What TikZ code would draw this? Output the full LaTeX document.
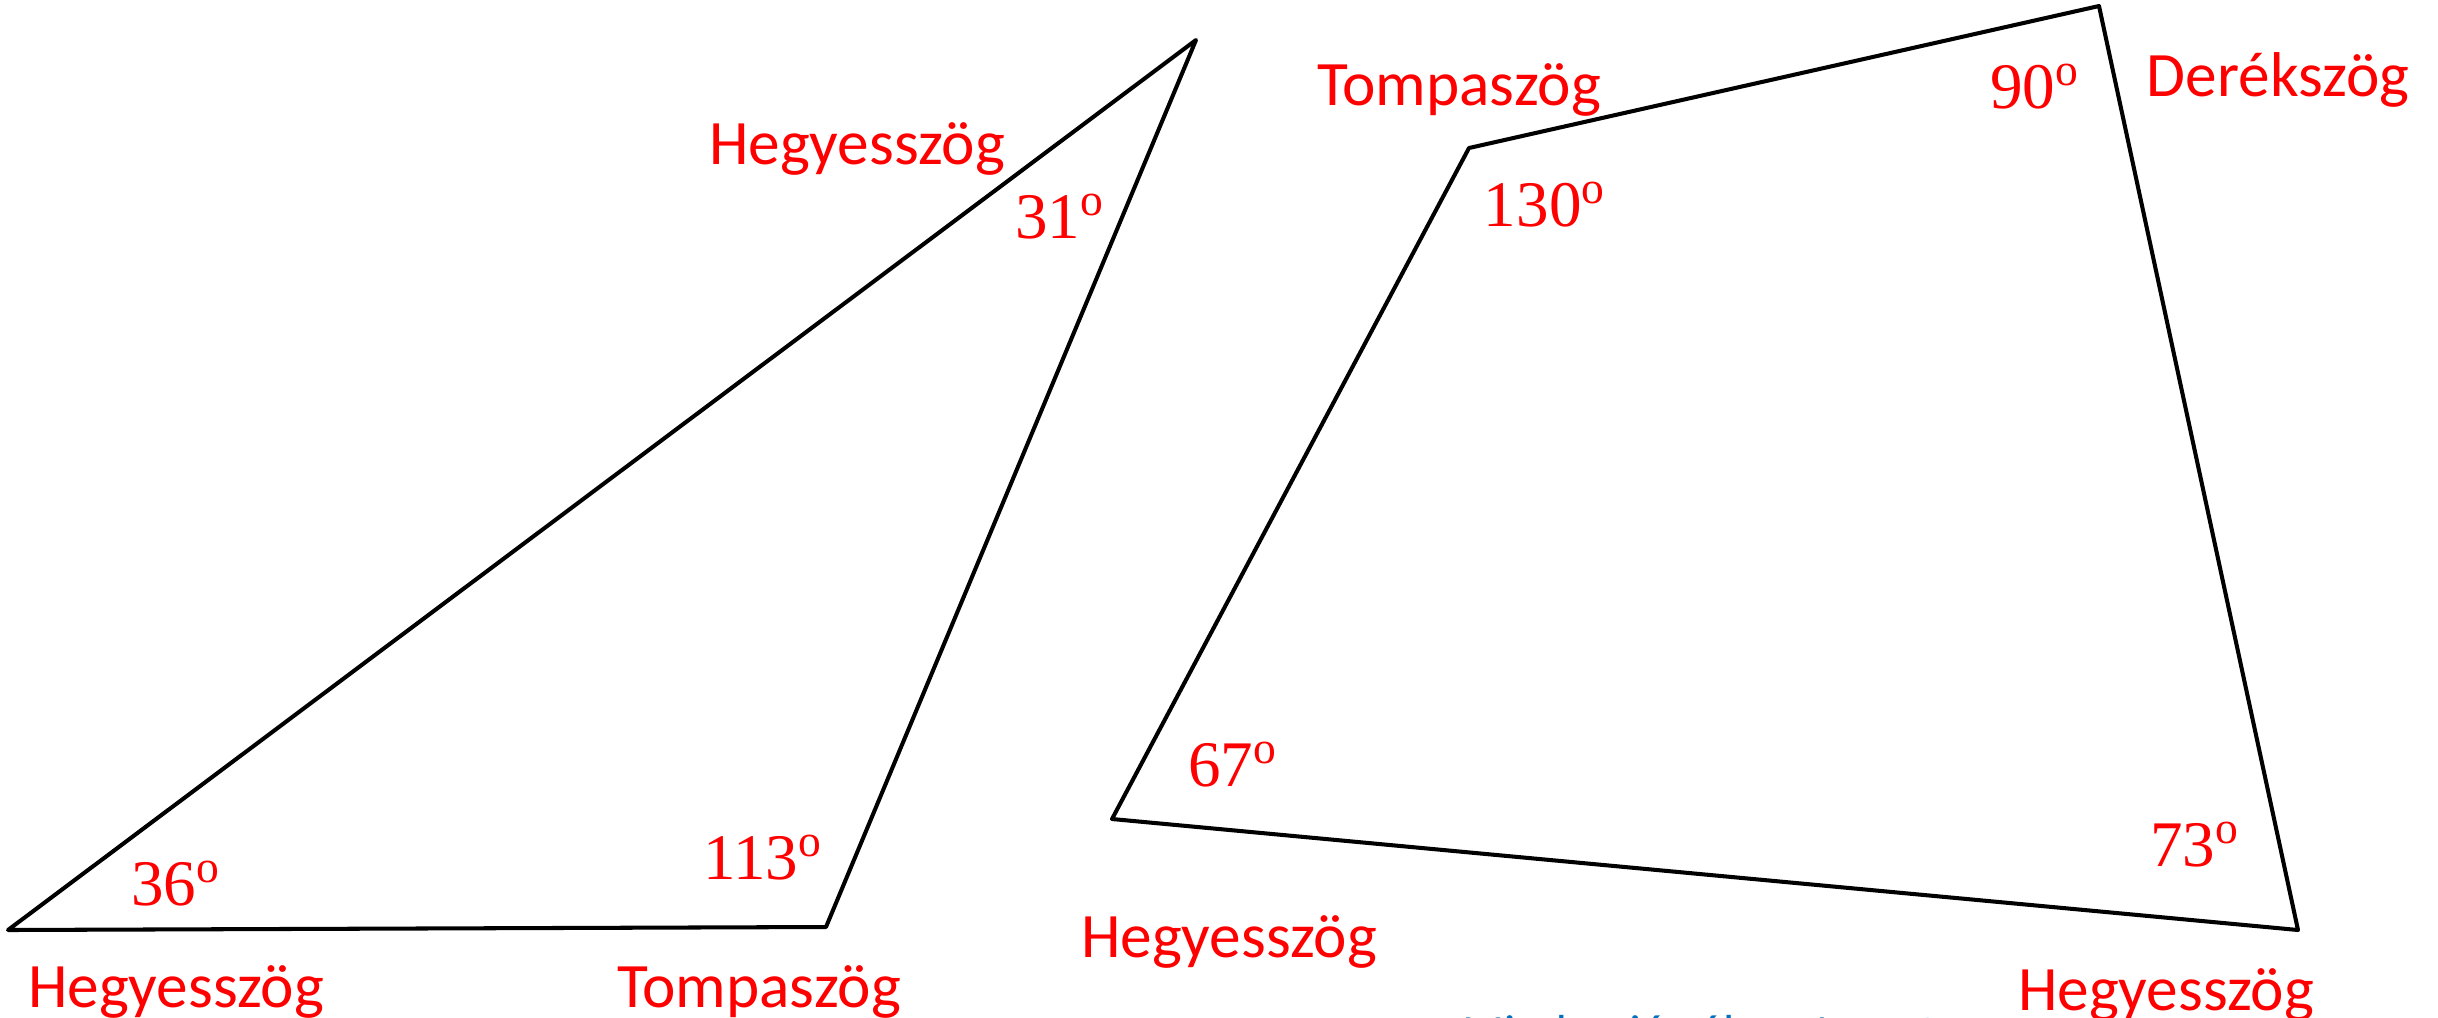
\documentclass[tikz,border=0pt]{standalone}
\usepackage{fontspec}
\setmainfont{Carlito}
\newfontfamily\numfont{Liberation Serif}
\usetikzlibrary{positioning}
\definecolor{labelred}{RGB}{255,0,0}
\definecolor{noteblue}{RGB}{0,112,192}
\newcommand{\fok}[1]{#1\textsuperscript{o}}
\tikzset{
  kind/.style={text=labelred,font=\fontsize{18}{20}\selectfont,inner sep=0pt,anchor=base},
  angle/.style={text=labelred,font=\numfont\fontsize{18.5}{20}\selectfont,inner sep=0pt,anchor=base},
  side/.style={draw=black,line width=1.15pt,line join=round},
  note/.style={text=noteblue,font=\fontsize{14}{16}\selectfont,inner sep=0pt,anchor=base west}
}
\begin{document}
\begin{tikzpicture}[x=0.01cm,y=-0.01cm]
  \useasboundingbox (0,0) rectangle (2438,1017);
  % triangle
  \coordinate (ta) at (8,930);
  \coordinate (tb) at (826,927);
  \coordinate (tc) at (1196,40);
  \draw[side] (ta) -- (tb) -- (tc) -- cycle;
  \node[angle] (ta-deg) at (176,905) {\fok{36}};
  \node[kind] (ta-kind) at (176,1007) {Hegyesszög};
  \node[angle] (tb-deg) at (763,879) {\fok{113}};
  \node[kind] (tb-kind) at (759,1007) {Tompaszög};
  \node[angle] (tc-deg) at (1060,238) {\fok{31}};
  \node[kind] (tc-kind) at (857,164) {Hegyesszög};
  % quadrilateral
  \coordinate (qa) at (1112,819);
  \coordinate (qb) at (1469,148);
  \coordinate (qc) at (2099,6);
  \coordinate (qd) at (2298,930);
  \draw[side] (qa) -- (qb) -- (qc) -- (qd) -- cycle;
  \node[angle] (qa-deg) at (1233,786) {\fok{67}};
  \node[kind] (qa-kind) at (1229,957) {Hegyesszög};
  \node[angle] (qb-deg) at (1545,226) {\fok{130}};
  \node[kind] (qb-kind) at (1459,105) {Tompaszög};
  \node[angle] (qc-deg) at (2035,108) {\fok{90}};
  \node[kind] (qc-kind) at (2278,96) {Derékszög};
  \node[angle] (qd-deg) at (2195,866) {\fok{73}};
  \node[kind] (qd-kind) at (2166,1010) {Hegyesszög};
  \node[note] (score) at (1462,1049) {Minden jó válasz 1 pont};
\end{tikzpicture}
\end{document}
